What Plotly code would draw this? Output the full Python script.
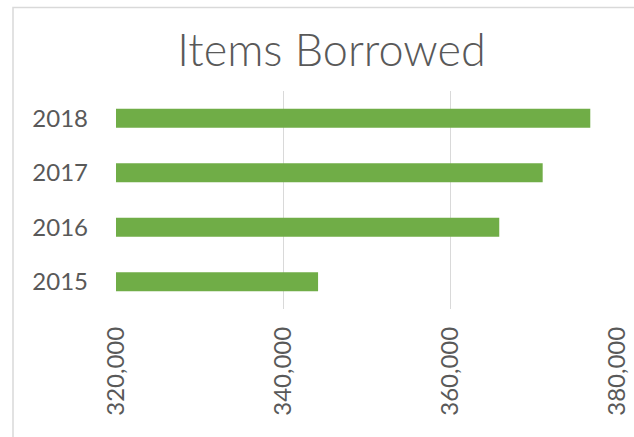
import plotly.graph_objects as go

years = ["2015", "2016", "2017", "2018"]
items = [344200, 365900, 371100, 376800]
x_ticks = [320000, 340000, 360000, 380000]

W, H = 634, 437
L, R, T, B = 116, 17, 91, 128
pw, ph = W - L - R, H - T - B

fig = go.Figure(go.Bar(
    y=years, x=items, orientation="h",
    marker=dict(color="#70AD47", line=dict(width=0)),
    hoverinfo="x+y",
))

fig.update_layout(
    width=W, height=H,
    margin=dict(l=L, r=R, t=T, b=B, pad=0, autoexpand=False),
    paper_bgcolor="white", plot_bgcolor="white",
    font=dict(family="Lato", color="#595959"),
    showlegend=False,
    bargap=0.65,
    title=dict(text="Items Borrowed",
               font=dict(family="Lato Light, Lato", size=45, color="#595959", weight=300),
               x=331.5 / W, xanchor="center", xref="container",
               y=1 - 50 / H, yanchor="middle", yref="container", automargin=False),
    xaxis=dict(range=[320000, 380000], tickvals=x_ticks, tickformat=",",
               tickangle=-90, showgrid=True, gridcolor="#D9D9D9", gridwidth=1,
               zeroline=False, showline=False, ticks="", automargin=False,
               tickfont=dict(family="Lato", size=24, color="#595959"),
               ticklabelstandoff=12, fixedrange=True),
    yaxis=dict(type="category", categoryorder="array", categoryarray=years,
               showgrid=False, zeroline=False, showline=False, ticks="", automargin=False,
               tickfont=dict(family="Lato", size=24, color="#595959"),
               ticklabelstandoff=27, fixedrange=True),
    shapes=[dict(type="rect", xref="paper", yref="paper",
                 x0=(13 - L) / pw, x1=1.2, y0=-0.8, y1=(H - B - 7.5) / ph,
                 line=dict(color="#D9D9D9", width=1.5), fillcolor="rgba(0,0,0,0)",
                 layer="below")],
)

fig.write_html("out.html", config={"displayModeBar": False},
               post_script="document.body.style.margin='0';document.body.style.overflow='hidden';")
